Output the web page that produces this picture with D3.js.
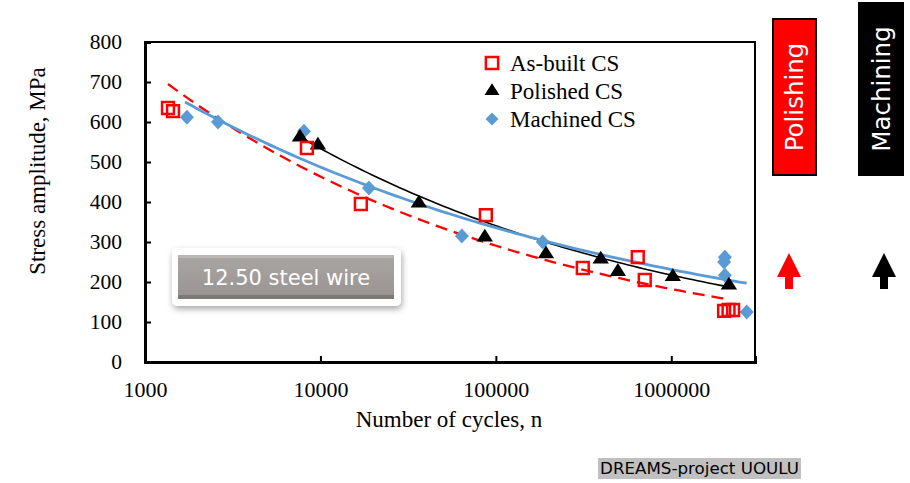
<!DOCTYPE html>
<html><head><meta charset="utf-8">
<script src="https://cdn.jsdelivr.net/npm/d3@7"></script>
<style>body{margin:0;background:#fff}svg{display:block}</style>
</head><body>
<svg id="c" width="910" height="483"></svg>
<script>
// ---- data ----
const seriesNames = ["As-built CS", "Polished CS", "Machined CS"];
const asBuiltN = [1352, 1444, 8375, 17000, 87700, 313000, 644000, 706000, 2.0e6, 2.12e6, 2.25e6];
const asBuiltS = [635, 627, 535, 395, 367, 235, 262, 205, 128, 130, 130];
const polishedN = [7640, 9680, 36400, 86500, 193000, 396000, 496000, 1.02e6, 2.13e6];
const polishedS = [562, 542, 397, 312, 270, 257, 226, 213, 192];
const machinedN = [1734, 2606, 8054, 18900, 64000, 185000, 2.02e6, 2.0e6, 2.02e6, 2.69e6];
const machinedS = [612, 600, 577, 435, 315, 300, 262, 250, 217, 125];
// power-law trend lines: [N start, S start, N end, S end]
const asBuiltTrend = [1352, 695, 2.1e6, 157];
const polishedTrend = [7400, 566, 2.16e6, 187];
const machinedTrend = [1690, 650, 2.69e6, 197];
const xTicks = [1000, 10000, 100000, 1000000];
const yTicks = [0, 100, 200, 300, 400, 500, 600, 700, 800];
const sideLabels = ["Polishing", "Machining"];

const svg = d3.select("#c");
const L = 145, R = 755, T = 42, B = 362;
const x = d3.scaleLog().domain([1000, 3e6]).range([L, R]);
const y = d3.scaleLinear().domain([0, 800]).range([B, T]);
const serif = "'Liberation Serif','Times New Roman',serif";
const sans = "'DejaVu Sans',sans-serif";
const RED = "#ff0000", BLUE = "#5b9bd5";

// frame
svg.append("rect").attr("x", L).attr("y", T).attr("width", R - L).attr("height", B - T)
  .attr("fill", "none").attr("stroke", "#000").attr("stroke-width", 2);

// axes
const ya = svg.append("g").attr("transform", `translate(${L},0)`)
  .call(d3.axisLeft(y).tickValues(yTicks).tickSize(-6).tickPadding(23).tickFormat(d3.format("d")));
const xa = svg.append("g").attr("transform", `translate(0,${B})`)
  .call(d3.axisBottom(x).tickValues(xTicks).tickSize(-6).tickPadding(19).tickFormat(d3.format("d")));
[ya, xa].forEach(g => {
  g.select(".domain").attr("stroke", "#000").attr("stroke-width", 3);
  g.selectAll(".tick line").attr("stroke", "#000").attr("stroke-width", 2);
  g.selectAll(".tick text").attr("font-family", serif).attr("font-size", 21.5).attr("fill", "#000");
});
xa.selectAll(".tick text").attr("dy", "0.71em").attr("font-size", 22);

svg.append("text").attr("x", 449).attr("y", 427).attr("text-anchor", "middle")
  .attr("font-family", serif).attr("font-size", 23).text("Number of cycles, n");
svg.append("text").attr("transform", "translate(45,171) rotate(-90)").attr("text-anchor", "middle")
  .attr("font-family", serif).attr("font-size", 23).text("Stress amplitude, MPa");

// trend lines (power law between endpoints)
function trendPts(t) {
  const b = Math.log(t[3] / t[1]) / Math.log(t[2] / t[0]);
  const a = t[1] / Math.pow(t[0], b);
  const l0 = Math.log10(t[0]), l1 = Math.log10(t[2]);
  return d3.range(0, 81).map(i => { const n = Math.pow(10, l0 + (l1 - l0) * i / 80); return [n, a * Math.pow(n, b)]; });
}
const line = d3.line().x(d => x(d[0])).y(d => y(d[1]));
svg.append("path").attr("d", line(trendPts(asBuiltTrend))).attr("fill", "none")
  .attr("stroke", RED).attr("stroke-width", 2.3).attr("stroke-dasharray", "12,7");
svg.append("path").attr("d", line(trendPts(polishedTrend))).attr("fill", "none")
  .attr("stroke", "#000").attr("stroke-width", 1.6);
svg.append("path").attr("d", line(trendPts(machinedTrend))).attr("fill", "none")
  .attr("stroke", BLUE).attr("stroke-width", 2.8);

// markers
const sq = d3.symbol().type(d3.symbolSquare).size(140)();
const tri = d3.symbol().type(d3.symbolTriangle).size(95)();
const dia = (w, h) => `M0,${-h}L${w},0L0,${h}L${-w},0Z`;
const zip = (a, b) => a.map((v, i) => [v, b[i]]);
svg.append("g").selectAll("path").data(zip(machinedN, machinedS)).join("path")
  .attr("d", dia(7, 7.5)).attr("transform", d => `translate(${x(d[0])},${y(d[1])})`).attr("fill", BLUE);
svg.append("g").selectAll("path").data(zip(polishedN, polishedS)).join("path")
  .attr("d", tri).attr("transform", d => `translate(${x(d[0])},${y(d[1])}) scale(1.1,1)`).attr("fill", "#000");
svg.append("g").selectAll("path").data(zip(asBuiltN, asBuiltS)).join("path")
  .attr("d", sq).attr("transform", d => `translate(${x(d[0])},${y(d[1])})`)
  .attr("fill", "none").attr("stroke", RED).attr("stroke-width", 2.5);

// legend
const lg = svg.append("g");
const lgY = [63, 91, 119];
lg.append("path").attr("d", d3.symbol().type(d3.symbolSquare).size(150)()).attr("transform", `translate(492,${lgY[0]})`)
  .attr("fill", "none").attr("stroke", RED).attr("stroke-width", 2.5);
lg.append("path").attr("d", d3.symbol().type(d3.symbolTriangle).size(80)()).attr("transform", `translate(492,${lgY[1]}) scale(1.1,1)`).attr("fill", "#000");
lg.append("path").attr("d", dia(6.5, 6.5)).attr("transform", `translate(492,${lgY[2]})`).attr("fill", BLUE);
seriesNames.forEach((s, i) => lg.append("text").attr("x", 510).attr("y", lgY[i]).attr("dy", "0.35em")
  .attr("font-family", serif).attr("font-size", 23).text(s));

// button label
const defs = svg.append("defs");
const f = defs.append("filter").attr("id", "sh").attr("x", "-20%").attr("y", "-30%").attr("width", "140%").attr("height", "170%");
f.append("feDropShadow").attr("dx", 1).attr("dy", 3).attr("stdDeviation", 3).attr("flood-color", "#000").attr("flood-opacity", 0.35);
const gr = defs.append("linearGradient").attr("id", "btn").attr("x1", 0).attr("y1", 0).attr("x2", 0).attr("y2", 1);
gr.append("stop").attr("offset", "0%").attr("stop-color", "#aaa6a4");
gr.append("stop").attr("offset", "100%").attr("stop-color", "#989391");
svg.append("rect").attr("x", 172).attr("y", 248).attr("width", 229).attr("height", 58).attr("rx", 5)
  .attr("fill", "#fff").attr("filter", "url(#sh)");
svg.append("rect").attr("x", 178).attr("y", 255).attr("width", 216).attr("height", 44).attr("fill", "url(#btn)");
svg.append("rect").attr("x", 178).attr("y", 255).attr("width", 216).attr("height", 3).attr("fill", "#bcb8b6");
svg.append("rect").attr("x", 178).attr("y", 295).attr("width", 216).attr("height", 4).attr("fill", "#7d7977");
svg.append("text").attr("x", 286).attr("y", 278).attr("dy", "0.35em").attr("text-anchor", "middle")
  .attr("font-family", sans).attr("font-size", 21).attr("fill", "#fff").text("12.50 steel wire");

// side labels
const sideBox = [{x: 773, y: 19, w: 43, h: 156, fill: RED}, {x: 859, y: 3, w: 44, h: 172, fill: "#000"}];
sideLabels.forEach((s, i) => {
  const b = sideBox[i];
  svg.append("rect").attr("x", b.x).attr("y", b.y).attr("width", b.w).attr("height", b.h)
    .attr("fill", b.fill).attr("stroke", "#000").attr("stroke-width", 2);
  svg.append("text").attr("transform", `translate(${b.x + b.w / 2},${i === 0 ? 97 : 89}) rotate(-90)`)
    .attr("text-anchor", "middle").attr("dy", "0.35em").attr("font-family", sans)
    .attr("font-size", 24.5).attr("fill", "#fff").text(s);
});
// arrows
[[789, RED], [884, "#000"]].forEach(([cx, c]) => {
  svg.append("path").attr("d", `M${cx},253 L${cx + 12},277 L${cx + 4},277 L${cx + 4},289 L${cx - 4},289 L${cx - 4},277 L${cx - 12},277 Z`).attr("fill", c);
});

// footer
svg.append("rect").attr("x", 598).attr("y", 458).attr("width", 203).attr("height", 21).attr("fill", "#c0c0c0");
svg.append("text").attr("x", 699.5).attr("y", 468.5).attr("dy", "0.35em").attr("text-anchor", "middle")
  .attr("font-family", sans).attr("font-size", 16.7).attr("fill", "#000").text("DREAMS-project UOULU");
</script>
</body></html>
